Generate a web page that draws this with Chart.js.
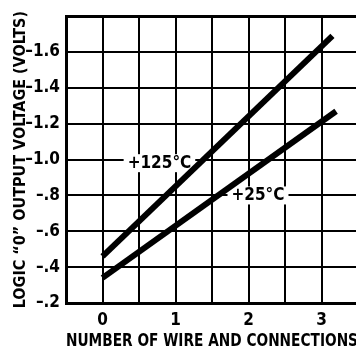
<!DOCTYPE html>
<html>
<head>
<meta charset="utf-8">
<script src="https://cdn.jsdelivr.net/npm/chart.js@4.4.1/dist/chart.umd.min.js"></script>
<style>
  html, body { margin: 0; padding: 0; background: #fff; overflow: hidden; }
  #wrap { width: 356px; height: 354px; overflow: hidden; }
</style>
</head>
<body>
<div id="wrap"><canvas id="chart" width="366" height="354"></canvas></div>
<script>
// wires/connections vs logic "0" output voltage
const seriesNames = ['+125°C', '+25°C'];
const wires125 = [0, 3.15];
const volts125 = [-0.46, -1.69];
const wires25 = [0, 3.2];
const volts25 = [-0.34, -1.27];
const xTickLabels = ['0', '1', '2', '3'];
const yTickLabels = ['–1.6', '–1.4', '–1.2', '–1.0', '–.8', '–.6', '–.4', '–.2'];
const yTickValues = [-1.6, -1.4, -1.2, -1.0, -0.8, -0.6, -0.4, -0.2];

const FONT = "'Liberation Sans Narrow', 'DejaVu Sans Condensed', sans-serif";

const toPoints = (xs, ys) => xs.map((x, i) => ({ x: x, y: ys[i] }));

// curve labels sitting on the grid with a white box behind them
const curveLabels = {
  id: 'curveLabels',
  beforeDatasetsDraw(chart, args, opts) {
    const ctx = chart.ctx;
    const xs = chart.scales.x, ys = chart.scales.y;
    ctx.save();
    ctx.font = 'bold 17px ' + FONT;
    ctx.textAlign = 'center';
    ctx.textBaseline = 'middle';
    opts.items.forEach(it => {
      const px = xs.getPixelForValue(it.x);
      const py = ys.getPixelForValue(it.y);
      const w = ctx.measureText(it.text).width + 8;
      ctx.fillStyle = '#fff';
      ctx.fillRect(px - w / 2, py - 9, w, 18);
      ctx.fillStyle = '#000';
      ctx.fillText(it.text, px, py);
    });
    ctx.restore();
  }
};

new Chart(document.getElementById('chart'), {
  type: 'scatter',
  data: {
    datasets: [{
      label: seriesNames[0],
      data: toPoints(wires125, volts125),
      showLine: true,
      borderColor: '#000',
      borderWidth: 6,
      pointRadius: 0
    }, {
      label: seriesNames[1],
      data: toPoints(wires25, volts25),
      showLine: true,
      borderColor: '#000',
      borderWidth: 6,
      pointRadius: 0
    }]
  },
  options: {
    responsive: false,
    animation: false,
    layout: { padding: { left: 0, right: 8, top: 11, bottom: 0 } },
    plugins: {
      legend: { display: false },
      tooltip: { enabled: false },
      curveLabels: {
        items: [
          { text: seriesNames[0], x: 0.78, y: -0.98 },
          { text: seriesNames[1], x: 2.13, y: -0.8 }
        ]
      }
    },
    scales: {
      x: {
        type: 'linear',
        min: -0.5,
        max: 3.5,
        afterFit: s => { s.height = 51; },
        border: { display: true, color: '#000', width: 3 },
        grid: { color: '#000', lineWidth: 2, drawTicks: false },
        ticks: {
          stepSize: 0.5,
          padding: 7,
          color: '#000',
          font: { family: FONT, size: 17, weight: 'bold' },
          callback: v => {
            const i = xTickLabels.indexOf(String(v));
            return i >= 0 ? xTickLabels[i] : '';
          }
        },
        title: {
          display: true,
          text: 'NUMBER OF WIRE AND CONNECTIONS',
          color: '#000',
          font: { family: FONT, size: 17, weight: 'bold' },
          padding: { top: 0, bottom: 2 }
        }
      },
      y: {
        min: -1.8,
        max: -0.2,
        reverse: true,
        afterFit: s => { s.width = 66; },
        border: { display: true, color: '#000', width: 3 },
        grid: {
          color: '#000',
          drawTicks: false,
          lineWidth: c => (c.tick && Math.abs(c.tick.value + 1.8) < 1e-6 ? 3 : 2)
        },
        ticks: {
          stepSize: 0.2,
          padding: 6,
          color: '#000',
          font: { family: FONT, size: 17, weight: 'bold' },
          callback: v => {
            const i = yTickValues.findIndex(t => Math.abs(t - v) < 1e-6);
            return i >= 0 ? yTickLabels[i] : '';
          }
        },
        title: {
          display: true,
          text: 'LOGIC “0” OUTPUT VOLTAGE (VOLTS)',
          color: '#000',
          font: { family: FONT, size: 16, weight: 'bold' },
          padding: { top: 11, bottom: 0 }
        }
      }
    }
  },
  plugins: [curveLabels]
});
</script>
</body>
</html>
